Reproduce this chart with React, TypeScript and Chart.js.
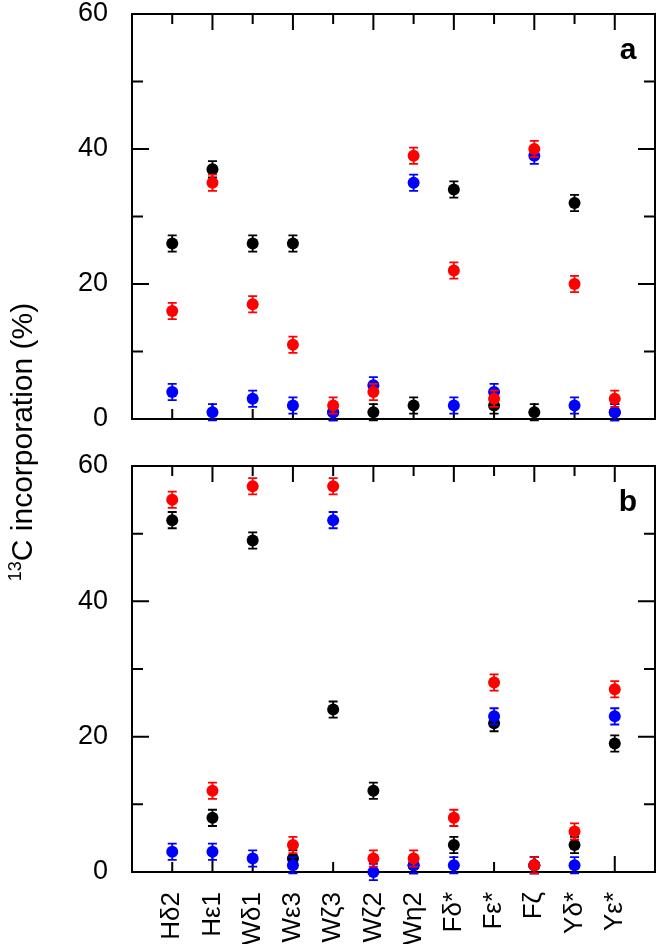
import React, { useEffect, useRef } from "react";
import { Chart, registerables } from "chart.js";

Chart.register(...registerables);

const categories = ["Hδ2", "Hε1", "Wδ1", "Wε3", "Wζ3", "Wζ2", "Wη2", "Fδ*", "Fε*", "Fζ", "Yδ*", "Yε*"];
const yTickValues = [0, 20, 40, 60];

// Panel a
const blackA = [26, 37, 26, 26, 1, 1, 2, 34, 2, 1, 32, 1];
const redA = [16, 35, 17, 11, 2, 4, 39, 22, 3, 40, 20, 3];
const blueA = [4, 1, 3, 2, 1, 5, 35, 2, 4, 39, 2, 1];
const errBlackA = [1.2, 1.2, 1.2, 1.2, 1.2, 1.2, 1.2, 1.2, 1.2, 1.2, 1.2, 1.2];
const errRedA = [1.2, 1.2, 1.2, 1.2, 1.2, 1.2, 1.2, 1.2, 1.2, 1.2, 1.2, 1.2];
const errBlueA = [1.2, 1.2, 1.2, 1.2, 1.2, 1.2, 1.2, 1.2, 1.2, 1.2, 1.2, 1.2];

// Panel b
const blackB = [52, 8, 49, 2, 24, 12, 1, 4, 22, 1, 4, 19];
const redB = [55, 12, 57, 4, 57, 2, 2, 8, 28, 1, 6, 27];
const blueB = [3, 3, 2, 1, 52, 0, 1, 1, 23, 1, 1, 23];
const errBlackB = [1.2, 1.2, 1.2, 1.2, 1.2, 1.2, 1.2, 1.2, 1.2, 1.2, 1.2, 1.2];
const errRedB = [1.2, 1.2, 1.2, 1.2, 1.2, 1.2, 1.2, 1.2, 1.2, 1.2, 1.2, 1.2];
const errBlueB = [1.2, 1.2, 1.2, 1.2, 1.2, 1.2, 1.2, 1.2, 1.2, 1.2, 1.2, 1.2];

const FONT = "'Liberation Sans', Arial, Helvetica, sans-serif";
const RED = "#ff0000";
const BLUE = "#0000ff";
const BLACK = "#000000";

const toPoints = (vals: number[]) => vals.map((v, i) => ({ x: i, y: v }));

const makeDataset = (vals: number[], errs: number[], color: string) => ({
  data: toPoints(vals),
  errors: errs,
  backgroundColor: color,
  borderColor: color,
  borderWidth: 0,
  pointRadius: 6,
  pointHoverRadius: 6,
  showLine: false,
  clip: false,
});

const errorBarPlugin = {
  id: "errorBars",
  beforeDatasetDraw(chart: any, args: any) {
    const ds = chart.data.datasets[args.index];
    const errs: number[] = ds.errors || [];
    const xs = chart.scales.x;
    const ys = chart.scales.y;
    const ctx = chart.ctx;
    ctx.save();
    ctx.strokeStyle = ds.borderColor;
    ctx.lineWidth = 1.8;
    ds.data.forEach((p: any, i: number) => {
      const e = errs[i] || 0;
      const x = xs.getPixelForValue(p.x);
      const y1 = ys.getPixelForValue(p.y + e);
      const y2 = ys.getPixelForValue(p.y - e);
      ctx.beginPath();
      ctx.moveTo(x, y1);
      ctx.lineTo(x, y2);
      ctx.moveTo(x - 4.5, y1);
      ctx.lineTo(x + 4.5, y1);
      ctx.moveTo(x - 4.5, y2);
      ctx.lineTo(x + 4.5, y2);
      ctx.stroke();
    });
    ctx.restore();
  },
};

const framePlugin = {
  id: "frameTicks",
  beforeDatasetsDraw(chart: any) {
    const { ctx, chartArea } = chart;
    const { left, right, top, bottom } = chartArea;
    const xs = chart.scales.x;
    const ys = chart.scales.y;
    ctx.save();
    ctx.strokeStyle = "#000";
    ctx.lineWidth = 2;
    ctx.strokeRect(left, top, right - left, bottom - top);
    ctx.beginPath();
    categories.forEach((_, i) => {
      const x = xs.getPixelForValue(i);
      const len = i % 2 === 1 ? 16 : 10;
      ctx.moveTo(x, top);
      ctx.lineTo(x, top + len);
      ctx.moveTo(x, bottom);
      ctx.lineTo(x, bottom - len);
    });
    [10, 20, 30, 40, 50].forEach((v) => {
      const y = ys.getPixelForValue(v);
      const len = v % 20 === 0 ? 17 : 11;
      ctx.moveTo(left, y);
      ctx.lineTo(left + len, y);
      ctx.moveTo(right, y);
      ctx.lineTo(right - len, y);
    });
    ctx.stroke();
    ctx.restore();
  },
  afterDraw(chart: any) {
    const label = chart.options.plugins.panelLabel?.text;
    if (!label) return;
    const { ctx, chartArea } = chart;
    ctx.save();
    ctx.fillStyle = "#000";
    ctx.font = `bold 30px ${FONT}`;
    ctx.textAlign = "center";
    ctx.textBaseline = "middle";
    ctx.fillText(label, chartArea.right - 27, chartArea.top + 37);
    ctx.restore();
  },
};

const zeroPad = (scale: any) => {
  scale.paddingTop = 0;
  scale.paddingBottom = 0;
  scale.paddingLeft = 0;
  scale.paddingRight = 0;
};

function makeConfig(datasets: any[], panel: string, showX: boolean, padding: any): any {
  return {
    type: "scatter",
    data: { datasets },
    options: {
      animation: false,
      responsive: false,
      events: [],
      layout: { padding },
      plugins: {
        legend: { display: false },
        tooltip: { enabled: false },
        panelLabel: { text: panel },
      },
      scales: {
        x: {
          type: "linear",
          min: -1,
          max: 12,
          display: showX,
          grid: { display: false, drawTicks: false },
          border: { display: false },
          afterBuildTicks: (scale: any) => {
            scale.ticks = categories.map((_, i) => ({ value: i }));
          },
          afterFit: (scale: any) => {
            if (showX) scale.height = 72;
            zeroPad(scale);
          },
          ticks: {
            autoSkip: false,
            maxRotation: 90,
            minRotation: 90,
            padding: 20,
            color: "#000",
            font: { family: FONT, size: 26 },
            callback: (v: number) => categories[v] ?? "",
          },
        },
        y: {
          type: "linear",
          min: 0,
          max: 60,
          grid: { display: false, drawTicks: false },
          border: { display: false },
          afterBuildTicks: (scale: any) => {
            scale.ticks = yTickValues.map((v) => ({ value: v }));
          },
          afterFit: (scale: any) => {
            scale.width = 132;
            zeroPad(scale);
          },
          ticks: {
            padding: 24,
            color: "#000",
            font: { family: FONT, size: 27 },
          },
        },
      },
    },
    plugins: [framePlugin, errorBarPlugin],
  };
}

function Panel(props: { datasets: any[]; panel: string; showX: boolean; padding: any; width: number; height: number; top: number }) {
  const ref = useRef<HTMLCanvasElement | null>(null);
  useEffect(() => {
    if (!ref.current) return;
    const chart = new Chart(ref.current, makeConfig(props.datasets, props.panel, props.showX, props.padding));
    return () => chart.destroy();
  }, []);
  return (
    <canvas
      ref={ref}
      width={props.width}
      height={props.height}
      style={{ position: "absolute", left: 0, top: props.top, width: props.width, height: props.height }}
    />
  );
}

export default function App() {
  const dsA = [
    makeDataset(redA, errRedA, RED),
    makeDataset(blueA, errBlueA, BLUE),
    makeDataset(blackA, errBlackA, BLACK),
  ];
  const dsB = [
    makeDataset(redB, errRedB, RED),
    makeDataset(blueB, errBlueB, BLUE),
    makeDataset(blackB, errBlackB, BLACK),
  ];
  return (
    <div style={{ position: "absolute", left: 0, top: 0, width: 661, height: 944, background: "#fff", overflow: "hidden" }}>
      <Panel datasets={dsA} panel="a" showX={false} padding={{ top: 14, right: 3, left: 0, bottom: 21 }} width={661} height={440} top={0} />
      <Panel datasets={dsB} panel="b" showX={true} padding={{ top: 26, right: 3, left: 0, bottom: 0 }} width={661} height={504} top={440} />
      <div
        style={{
          position: "absolute",
          left: 22 - 200,
          top: 442 - 18,
          width: 400,
          height: 36,
          lineHeight: "36px",
          textAlign: "center",
          transform: "rotate(-90deg)",
          fontFamily: FONT,
          fontSize: 30,
          color: "#000",
          whiteSpace: "nowrap",
        }}
      >
        <span style={{ fontSize: 18, position: "relative", top: -11 }}>13</span>C incorporation (%)
      </div>
    </div>
  );
}
